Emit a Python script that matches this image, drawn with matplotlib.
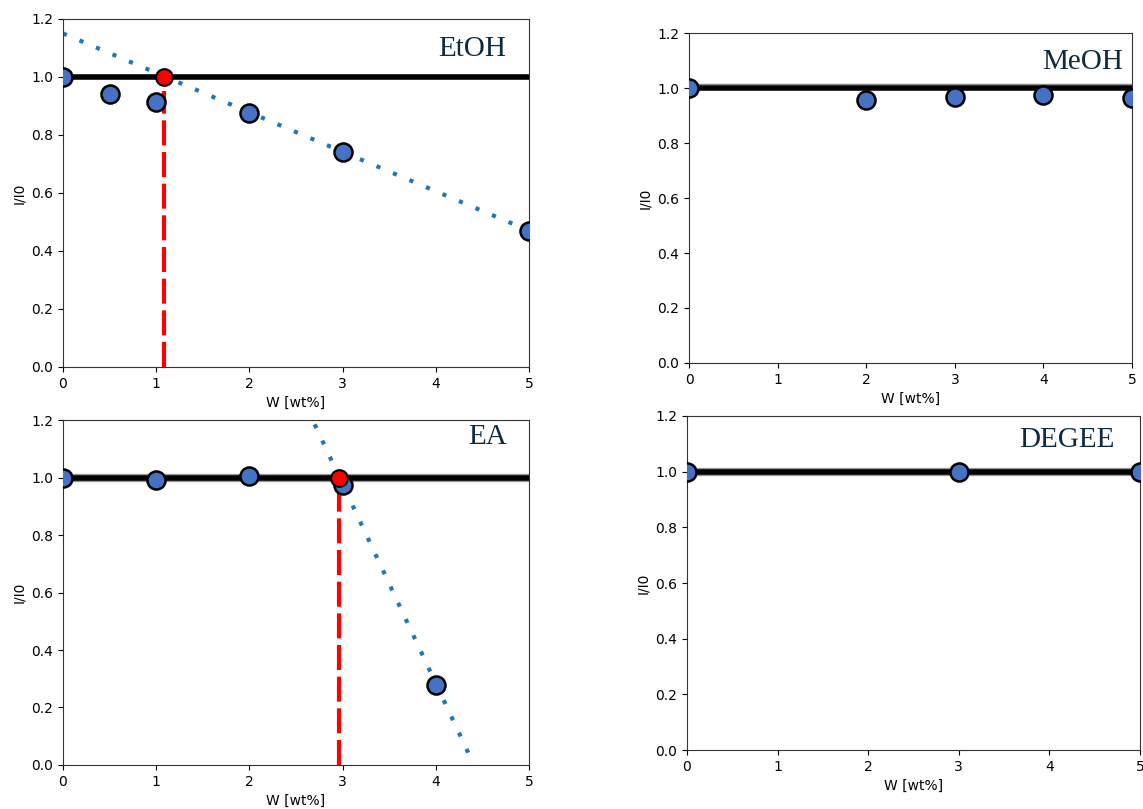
import matplotlib
matplotlib.use("Agg")
import matplotlib.pyplot as plt
import numpy as np

# ---- data ----
etoh_w = [0, 0.5, 1, 2, 3, 5]
etoh_i = [1.0, 0.94, 0.915, 0.875, 0.74, 0.47]
etoh_fit_x = [0, 5]
etoh_fit_y = [1.15, 0.47]
etoh_cross = 1.08

meoh_w = [0, 2, 3, 4, 5]
meoh_i = [1.0, 0.955, 0.968, 0.975, 0.962]

ea_w = [0, 1, 2, 3, 4]
ea_i = [1.0, 0.99, 1.005, 0.975, 0.28]
ea_fit_x = [2.70, 4.41]
ea_fit_y = [1.185, 0.0]
ea_cross = 2.96

degee_w = [0, 3, 5]
degee_i = [1.0, 1.0, 1.0]

xticks = [0, 1, 2, 3, 4, 5]
yticks = [0.0, 0.2, 0.4, 0.6, 0.8, 1.0, 1.2]

fig = plt.figure(figsize=(11.43, 8.09), dpi=100)

ax_tl = fig.add_axes([0.0551, 0.5464, 0.4077, 0.4302])
ax_tr = fig.add_axes([0.6028, 0.5513, 0.3876, 0.4079])
ax_bl = fig.add_axes([0.0551, 0.0544, 0.4077, 0.4264])
ax_br = fig.add_axes([0.6010, 0.0729, 0.3963, 0.4129])

blue = "#4472c4"
label_color = "#0d2b3e"

def base(ax, w, i, name, tx, ty, halo):
    ax.set_xlim(0, 5)
    ax.set_ylim(0, 1.2)
    ax.set_xticks(xticks)
    ax.set_yticks(yticks)
    ax.set_xlabel("W [wt%]", fontsize=10)
    ax.set_ylabel("I/I0", fontsize=10)
    if halo:
        ax.axhline(1.0, color="#9a9a9a", lw=6.0, zorder=2)
    ax.axhline(1.0, color="black", lw=4.0, zorder=2.1)
    ax.plot(w, i, "o", ms=13, mfc=blue, mec="black", mew=1.8, zorder=4)
    ax.text(tx, ty, name, ha="right", va="center", fontsize=21,
            family="Liberation Serif", color=label_color, zorder=6)
    for s in ax.spines.values():
        s.set_color("#333333")

def fit(ax, fx, fy, cross):
    ax.plot(fx, fy, color="#1f77b4", lw=3, ls=(0, (1, 3.3)), zorder=1.5,
            dash_capstyle="butt")
    ax.plot([cross, cross], [0, 0.95], color="red", lw=3, ls=(0, (6, 1.6)),
            zorder=3)
    ax.plot([cross], [1.0], "o", ms=12, mfc="red", mec="black", mew=1.5,
            zorder=5)

base(ax_tl, etoh_w, etoh_i, "EtOH", 4.75, 1.095, False)
fit(ax_tl, etoh_fit_x, etoh_fit_y, etoh_cross)

base(ax_tr, meoh_w, meoh_i, "MeOH", 4.9, 1.095, False)
ax_tr.axhline(1.014, color="#888888", lw=1.0, zorder=1.9)

base(ax_bl, ea_w, ea_i, "EA", 4.76, 1.14, True)
fit(ax_bl, ea_fit_x, ea_fit_y, ea_cross)

base(ax_br, degee_w, degee_i, "DEGEE", 4.72, 1.114, True)

fig.savefig("out.png", dpi=100)
